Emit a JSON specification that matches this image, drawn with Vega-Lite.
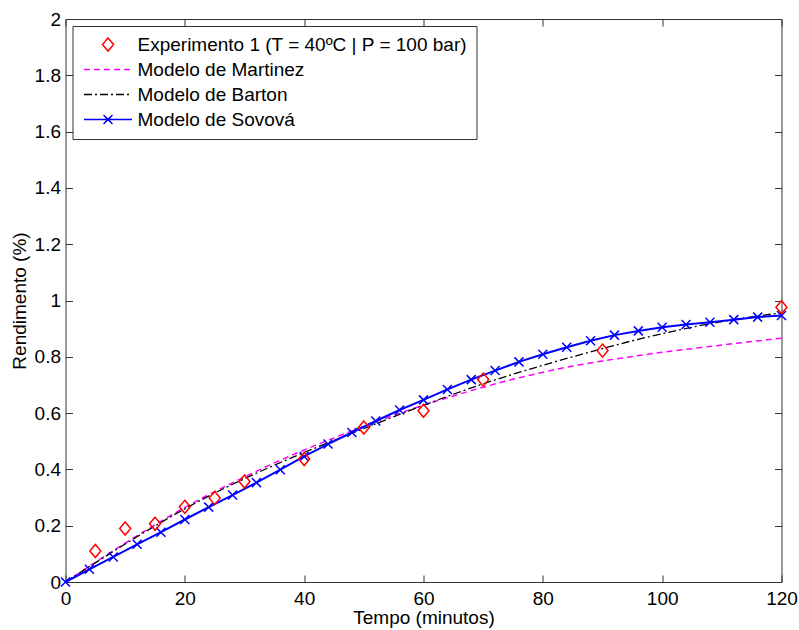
{
  "$schema": "https://vega.github.io/schema/vega-lite/v6.json",
  "width": 716,
  "height": 563,
  "autosize": {"type": "none"},
  "padding": {"left": 65.5, "top": 19, "right": 17.5, "bottom": 48},
  "background": "white",
  "config": {
    "font": "Liberation Sans",
    "view": {"stroke": null},
    "axis": {
      "labelFont": "Liberation Sans",
      "labelFontSize": 19,
      "labelColor": "#000000",
      "titleFont": "Liberation Sans",
      "titleFontSize": 19,
      "titleFontWeight": "normal",
      "titleColor": "#000000",
      "domainColor": "#333333",
      "tickColor": "#333333",
      "domainWidth": 1,
      "tickWidth": 1,
      "grid": false,
      "labelFlush": false,
      "labelOverlap": false
    }
  },
  "data": {
    "values": [
      {"s": "Experimento 1", "t": 5, "y": 0.11},
      {"s": "Experimento 1", "t": 10, "y": 0.19},
      {"s": "Experimento 1", "t": 15, "y": 0.207},
      {"s": "Experimento 1", "t": 20, "y": 0.267},
      {"s": "Experimento 1", "t": 25, "y": 0.298},
      {"s": "Experimento 1", "t": 30, "y": 0.357},
      {"s": "Experimento 1", "t": 40, "y": 0.437},
      {"s": "Experimento 1", "t": 50, "y": 0.549},
      {"s": "Experimento 1", "t": 60, "y": 0.608},
      {"s": "Experimento 1", "t": 70, "y": 0.719},
      {"s": "Experimento 1", "t": 90, "y": 0.822},
      {"s": "Experimento 1", "t": 120, "y": 0.976},

      {"s": "Martinez", "t": 0, "y": 0},
      {"s": "Martinez", "t": 5, "y": 0.07},
      {"s": "Martinez", "t": 10, "y": 0.138},
      {"s": "Martinez", "t": 15, "y": 0.203},
      {"s": "Martinez", "t": 20, "y": 0.265},
      {"s": "Martinez", "t": 25, "y": 0.321},
      {"s": "Martinez", "t": 30, "y": 0.373},
      {"s": "Martinez", "t": 35, "y": 0.423},
      {"s": "Martinez", "t": 40, "y": 0.469},
      {"s": "Martinez", "t": 45, "y": 0.512},
      {"s": "Martinez", "t": 50, "y": 0.553},
      {"s": "Martinez", "t": 55, "y": 0.592},
      {"s": "Martinez", "t": 60, "y": 0.628},
      {"s": "Martinez", "t": 65, "y": 0.661},
      {"s": "Martinez", "t": 70, "y": 0.692},
      {"s": "Martinez", "t": 75, "y": 0.72},
      {"s": "Martinez", "t": 80, "y": 0.745},
      {"s": "Martinez", "t": 85, "y": 0.767},
      {"s": "Martinez", "t": 90, "y": 0.785},
      {"s": "Martinez", "t": 95, "y": 0.801},
      {"s": "Martinez", "t": 100, "y": 0.816},
      {"s": "Martinez", "t": 105, "y": 0.829},
      {"s": "Martinez", "t": 110, "y": 0.842},
      {"s": "Martinez", "t": 115, "y": 0.854},
      {"s": "Martinez", "t": 120, "y": 0.866},

      {"s": "Barton", "t": 0, "y": 0},
      {"s": "Barton", "t": 5, "y": 0.068},
      {"s": "Barton", "t": 10, "y": 0.135},
      {"s": "Barton", "t": 15, "y": 0.199},
      {"s": "Barton", "t": 20, "y": 0.26},
      {"s": "Barton", "t": 25, "y": 0.316},
      {"s": "Barton", "t": 30, "y": 0.367},
      {"s": "Barton", "t": 35, "y": 0.415},
      {"s": "Barton", "t": 40, "y": 0.46},
      {"s": "Barton", "t": 45, "y": 0.503},
      {"s": "Barton", "t": 50, "y": 0.545},
      {"s": "Barton", "t": 55, "y": 0.587},
      {"s": "Barton", "t": 60, "y": 0.628},
      {"s": "Barton", "t": 65, "y": 0.667},
      {"s": "Barton", "t": 70, "y": 0.704},
      {"s": "Barton", "t": 75, "y": 0.738},
      {"s": "Barton", "t": 80, "y": 0.77},
      {"s": "Barton", "t": 85, "y": 0.8},
      {"s": "Barton", "t": 90, "y": 0.829},
      {"s": "Barton", "t": 95, "y": 0.857},
      {"s": "Barton", "t": 100, "y": 0.882},
      {"s": "Barton", "t": 105, "y": 0.905},
      {"s": "Barton", "t": 110, "y": 0.925},
      {"s": "Barton", "t": 115, "y": 0.942},
      {"s": "Barton", "t": 120, "y": 0.956},

      {"s": "Sovová", "t": 0, "y": 0},
      {"s": "Sovová", "t": 4, "y": 0.045},
      {"s": "Sovová", "t": 8, "y": 0.089},
      {"s": "Sovová", "t": 12, "y": 0.134},
      {"s": "Sovová", "t": 16, "y": 0.177},
      {"s": "Sovová", "t": 20, "y": 0.222},
      {"s": "Sovová", "t": 24, "y": 0.266},
      {"s": "Sovová", "t": 28, "y": 0.309},
      {"s": "Sovová", "t": 32, "y": 0.353},
      {"s": "Sovová", "t": 36, "y": 0.399},
      {"s": "Sovová", "t": 40, "y": 0.446},
      {"s": "Sovová", "t": 44, "y": 0.49},
      {"s": "Sovová", "t": 48, "y": 0.531},
      {"s": "Sovová", "t": 52, "y": 0.572},
      {"s": "Sovová", "t": 56, "y": 0.611},
      {"s": "Sovová", "t": 60, "y": 0.647},
      {"s": "Sovová", "t": 64, "y": 0.684},
      {"s": "Sovová", "t": 68, "y": 0.719},
      {"s": "Sovová", "t": 72, "y": 0.751},
      {"s": "Sovová", "t": 76, "y": 0.782},
      {"s": "Sovová", "t": 80, "y": 0.809},
      {"s": "Sovová", "t": 84, "y": 0.834},
      {"s": "Sovová", "t": 88, "y": 0.857},
      {"s": "Sovová", "t": 92, "y": 0.877},
      {"s": "Sovová", "t": 96, "y": 0.892},
      {"s": "Sovová", "t": 100, "y": 0.905},
      {"s": "Sovová", "t": 104, "y": 0.915},
      {"s": "Sovová", "t": 108, "y": 0.923},
      {"s": "Sovová", "t": 112, "y": 0.932},
      {"s": "Sovová", "t": 116, "y": 0.941},
      {"s": "Sovová", "t": 120, "y": 0.947}
    ]
  },
  "resolve": {"axis": {"x": "independent", "y": "independent"}},
  "layer": [
    {
      "transform": [{"filter": "datum.s === 'Martinez'"}],
      "mark": {"type": "line", "strokeWidth": 1.5, "strokeDash": [6, 4], "interpolate": "monotone"},
      "encoding": {
        "x": {
          "field": "t", "type": "quantitative",
          "scale": {"domain": [0, 120], "nice": false, "zero": false},
          "axis": {
            "orient": "bottom",
            "values": [0, 20, 40, 60, 80, 100, 120],
            "ticks": false,
            "labelPadding": 7,
            "title": "Tempo (minutos)",
            "titleY": 41,
            "titleBaseline": "alphabetic"
          }
        },
        "y": {
          "field": "y", "type": "quantitative",
          "scale": {"domain": [0, 2], "nice": false},
          "axis": {
            "orient": "left",
            "values": [0, 0.2, 0.4, 0.6, 0.8, 1, 1.2, 1.4, 1.6, 1.8, 2],
            "format": "~g",
            "ticks": false,
            "labelPadding": 5,
            "title": "Rendimento (%)",
            "titleX": -40.5,
            "titleBaseline": "alphabetic"
          }
        },
        "color": {
          "field": "s", "type": "nominal",
          "scale": {
            "domain": ["Experimento 1", "Martinez", "Barton", "Sovová"],
            "range": ["#ff0000", "#ff00ff", "#000000", "#0000ff"]
          },
          "legend": {
            "orient": "none",
            "legendX": 7,
            "legendY": 7,
            "title": null,
            "padding": 9,
            "rowPadding": 5,
            "strokeColor": "#333333",
            "fillColor": "#ffffff",
            "labelFont": "Liberation Sans",
            "labelFontSize": 19,
            "labelColor": "#000000",
            "labelLimit": 600,
            "symbolSize": 196,
            "symbolStrokeWidth": 1.5,
            "symbolOffset": 17,
            "labelOffset": 20,
            "labelExpr": "datum.value === 'Experimento 1' ? 'Experimento 1 (T = 40ºC | P = 100 bar)' : 'Modelo de ' + datum.value",
            "encode": {
              "symbols": {
                "update": {
                  "shape": {"signal": "datum.value === 'Experimento 1' ? 'M0,-0.93L0.786,0L0,0.93L-0.786,0Z' : datum.value === 'Sovová' ? 'M-3.43,0L3.43,0M-0.64,-0.64L0.64,0.64M-0.64,0.64L0.64,-0.64' : 'M-3.43,0L3.43,0'"},
                  "strokeDash": {"signal": "datum.value === 'Martinez' ? [6, 4] : datum.value === 'Barton' ? [8, 3, 2, 3] : [1, 0]"},
                  "fill": {"value": "transparent"},
                  "opacity": {"value": 1},
                  "strokeWidth": {"value": 1.5}
                }
              }
            }
          }
        }
      }
    },
    {
      "transform": [{"filter": "datum.s === 'Barton'"}],
      "mark": {"type": "line", "strokeWidth": 1.3, "strokeDash": [8, 3, 2, 3], "interpolate": "monotone"},
      "encoding": {
        "x": {
          "field": "t", "type": "quantitative",
          "axis": {
            "orient": "top",
            "values": [0, 20, 40, 60, 80, 100, 120],
            "labels": false,
            "tickSize": -7,
            "title": null
          }
        },
        "y": {
          "field": "y", "type": "quantitative",
          "axis": {
            "orient": "right",
            "values": [0, 0.2, 0.4, 0.6, 0.8, 1, 1.2, 1.4, 1.6, 1.8, 2],
            "labels": false,
            "tickSize": -7,
            "title": null
          }
        },
        "color": {"field": "s", "type": "nominal"}
      }
    },
    {
      "transform": [{"filter": "datum.s === 'Sovová'"}],
      "mark": {"type": "line", "strokeWidth": 2},
      "encoding": {
        "x": {
          "field": "t", "type": "quantitative",
          "axis": {
            "orient": "bottom",
            "values": [0, 20, 40, 60, 80, 100, 120],
            "labels": false,
            "domain": false,
            "tickSize": -7,
            "title": null
          }
        },
        "y": {
          "field": "y", "type": "quantitative",
          "axis": {
            "orient": "left",
            "values": [0, 0.2, 0.4, 0.6, 0.8, 1, 1.2, 1.4, 1.6, 1.8, 2],
            "labels": false,
            "domain": false,
            "tickSize": -7,
            "title": null
          }
        },
        "color": {"field": "s", "type": "nominal"}
      }
    },
    {
      "transform": [{"filter": "datum.s === 'Sovová'"}],
      "mark": {"type": "point", "shape": "M-1,-1L1,1M-1,1L1,-1", "filled": false, "size": 81, "strokeWidth": 1.5, "opacity": 1, "color": "#0000ff"},
      "encoding": {
        "x": {"field": "t", "type": "quantitative", "axis": null},
        "y": {"field": "y", "type": "quantitative", "axis": null}
      }
    },
    {
      "transform": [{"filter": "datum.s === 'Experimento 1'"}],
      "mark": {"type": "point", "shape": "M0,-0.93L0.786,0L0,0.93L-0.786,0Z", "filled": false, "size": 196, "strokeWidth": 1.5, "opacity": 1},
      "encoding": {
        "x": {"field": "t", "type": "quantitative", "axis": null},
        "y": {"field": "y", "type": "quantitative", "axis": null},
        "color": {"field": "s", "type": "nominal"}
      }
    }
  ]
}
